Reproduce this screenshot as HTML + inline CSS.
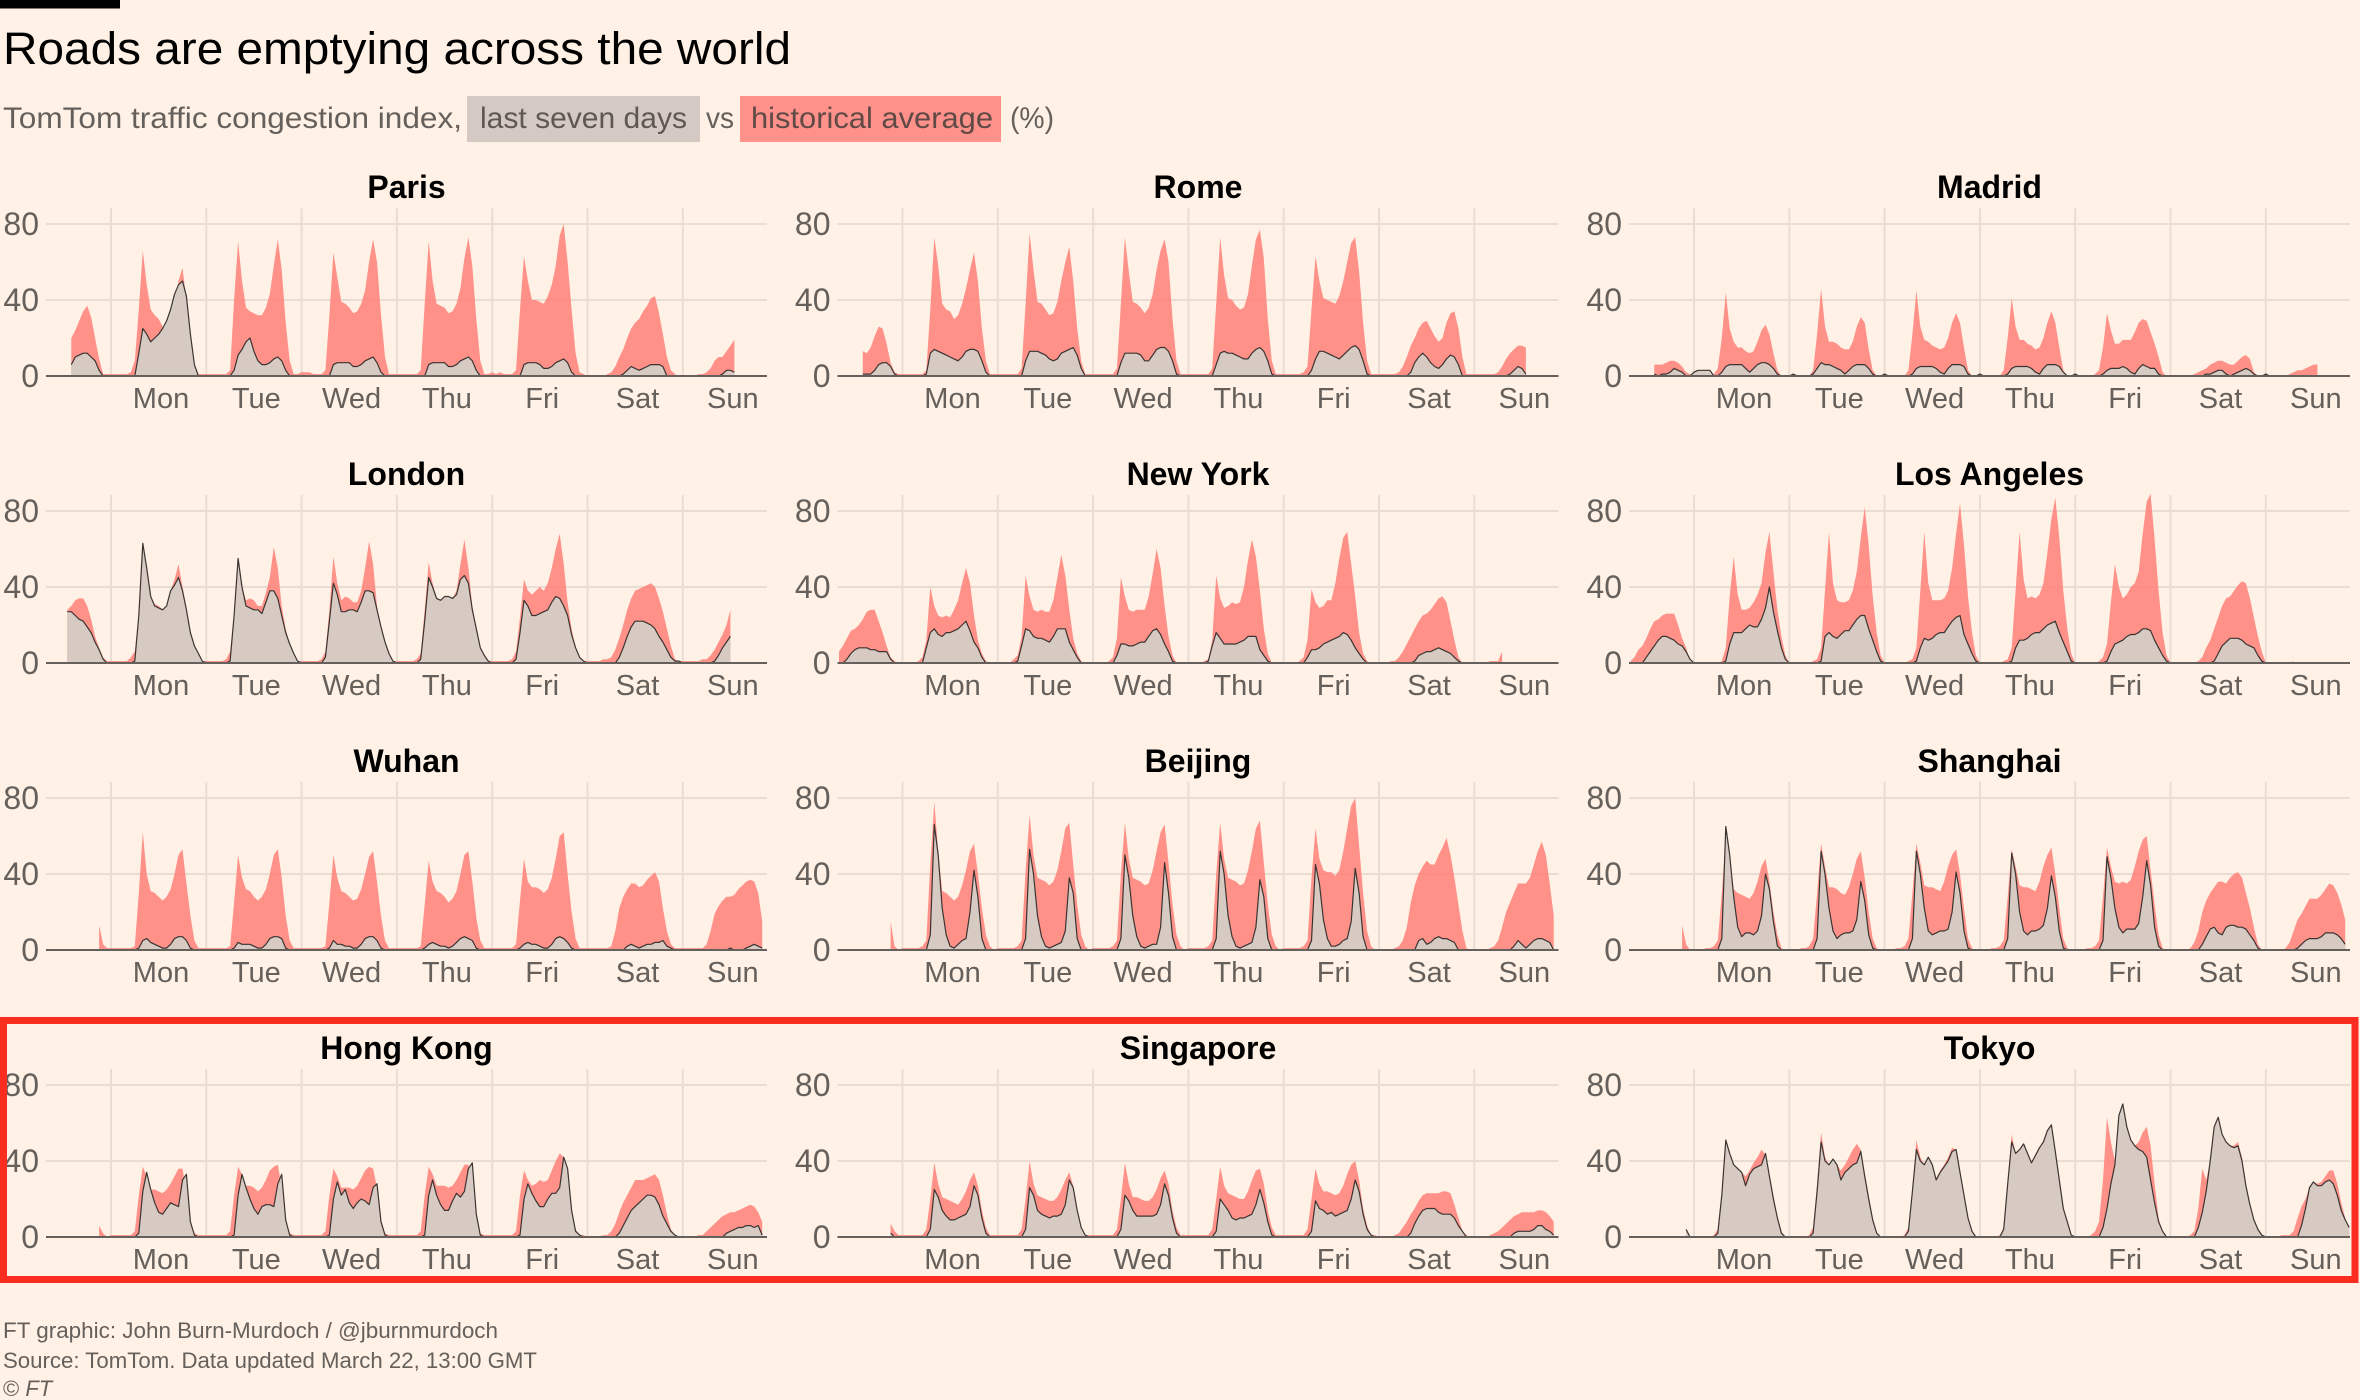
<!DOCTYPE html>
<html lang="en">
<head>
<meta charset="utf-8">
<title>Roads are emptying across the world</title>
<style>
html,body{margin:0;padding:0;background:#fff1e5;width:2360px;height:1400px;overflow:hidden}
svg{display:block;font-family:"Liberation Sans",sans-serif}
</style>
</head>
<body>
<svg id="chart" xmlns="http://www.w3.org/2000/svg" width="2360" height="1400" viewBox="0 0 2360 1400">
<rect x="0" y="0" width="2360" height="1400" fill="#fff1e5"/>
<rect x="0" y="0" width="120" height="8.5" fill="#000"/>
<text x="3" y="64" font-size="45" fill="#000" textLength="788" lengthAdjust="spacingAndGlyphs">Roads are emptying across the world</text>
<text x="3" y="128" font-size="30" fill="#66605c" textLength="459" lengthAdjust="spacingAndGlyphs">TomTom traffic congestion index,</text>
<rect x="467" y="96" width="233" height="46" fill="#d4cac3"/>
<text x="480" y="128" font-size="30" fill="#5f5753" textLength="207" lengthAdjust="spacingAndGlyphs">last seven days</text>
<text x="706" y="128" font-size="30" fill="#66605c" textLength="28" lengthAdjust="spacingAndGlyphs">vs</text>
<rect x="740" y="96" width="261" height="46" fill="#ff918a"/>
<text x="751" y="128" font-size="30" fill="#5f4a46" textLength="242" lengthAdjust="spacingAndGlyphs">historical average</text>
<text x="1010" y="128" font-size="30" fill="#66605c" textLength="44" lengthAdjust="spacingAndGlyphs">(%)</text>
<g id="panels"></g>
<rect x="3.5" y="1020.5" width="2351.5" height="259" fill="none" stroke="#fb2d20" stroke-width="7"/>
<text x="3" y="1338" font-size="22" fill="#66605c" textLength="495" lengthAdjust="spacingAndGlyphs">FT graphic: John Burn-Murdoch / @jburnmurdoch</text>
<text x="3" y="1368" font-size="22" fill="#66605c" textLength="534" lengthAdjust="spacingAndGlyphs">Source: TomTom. Data updated March 22, 13:00 GMT</text>
<text x="3" y="1396" font-size="22" fill="#66605c">© <tspan font-style="italic">FT</tspan></text>
</svg>
<script>
const dayLabels = ['Mon','Tue','Wed','Thu','Fri','Sat','Sun'];
const yTicks = [0,40,80];

const parisStart = -10;
const parisHist = [20,24,29,34,37,31,20,9,1,1,
1,1,1,1,1,2,8,35,66,48,35,32,30,26,25,30,36,50,57,40,15,4,1,1,
1,1,1,1,1,1,3,40,71,50,36,34,33,32,32,36,43,58,72,56,28,8,1,1,
2,2,2,1,1,1,3,32,65,52,39,38,36,33,34,38,45,60,72,60,32,10,1,1,
1,1,1,1,1,1,3,38,71,50,38,37,36,33,34,38,46,62,73,58,30,8,1,1,
2,1,2,1,1,1,3,35,63,50,40,40,39,38,42,48,58,74,80,60,35,12,2,1,
0,0,0,0,0,1,2,5,10,14,20,25,28,30,34,37,41,42,33,22,10,3,1,0,
0,0,0,0,1,1,2,4,8,10,10,13,16,19];
const parisNow = [6,10,11,12,12,10,8,3,0,0,
0,0,0,0,0,0,0,12,25,22,18,20,22,25,29,35,43,48,50,42,22,6,0,0,
0,0,0,0,0,0,0,3,11,14,18,20,13,8,6,6,7,9,10,8,3,0,0,0,
0,0,0,0,0,0,0,0,6,7,7,7,7,5,5,6,8,9,10,7,2,0,0,0,
0,0,0,0,0,0,0,0,6,7,7,7,7,5,5,6,8,9,10,8,3,0,0,0,
0,0,0,0,0,0,0,0,6,7,7,7,6,4,4,5,7,8,9,7,2,0,0,0,
0,0,0,0,0,0,0,0,0,1,3,5,4,3,4,5,6,6,6,5,0,0,0,0,
0,0,0,0,0,0,0,0,0,0,1,3,3,2];

const romeStart = -10;
const romeHist = [13,12,15,21,26,25,17,7,2,1,
1,1,1,1,1,1,3,35,73,58,38,35,34,30,32,38,46,56,65,50,25,8,1,1,
1,1,1,1,1,1,4,38,75,56,39,38,35,32,33,39,50,60,68,50,25,8,1,1,
1,1,1,1,1,1,4,38,73,55,39,38,36,33,36,43,56,66,72,60,30,8,1,1,
1,1,1,1,1,1,4,38,73,53,41,40,37,35,36,43,58,72,77,62,30,8,1,1,
1,1,1,1,1,2,5,35,63,50,41,40,39,38,42,50,60,70,73,55,28,8,1,1,
1,1,1,1,1,2,5,10,16,20,25,28,29,25,21,18,20,28,33,34,25,10,1,1,
1,1,1,1,1,1,2,5,9,12,14,16,16,15];
const romeNow = [1,1,1,3,6,7,7,5,1,0,
0,0,0,0,0,0,1,12,14,13,12,11,10,9,8,10,13,14,14,13,8,2,0,0,
0,0,0,0,0,0,0,8,13,13,13,12,11,9,8,9,12,13,14,15,11,4,0,0,
0,0,0,0,0,0,0,7,12,12,12,12,11,8,8,11,14,15,15,13,8,1,0,0,
0,0,0,0,0,0,0,6,12,13,12,12,11,10,9,9,12,14,15,13,8,1,0,0,
0,0,0,0,0,0,0,3,9,13,13,12,11,10,9,11,13,15,16,14,8,1,0,0,
0,0,0,0,0,0,0,0,2,7,10,12,10,7,5,4,6,9,11,10,6,0,0,0,
0,0,0,0,0,0,0,0,0,1,3,5,4,1];

const madridStart = -10;
const madridHist = [6,6,6,7,8,8,7,5,2,1,
1,1,1,1,1,1,4,20,44,25,18,15,15,13,12,13,18,24,27,22,12,3,0,0,
0,0,0,0,0,0,3,22,46,26,18,18,17,15,14,14,18,26,31,28,14,3,0,0,
0,0,0,0,0,0,3,22,45,26,19,18,16,15,14,15,20,28,33,28,15,3,0,0,
0,0,0,0,0,0,3,20,41,26,19,19,17,16,14,15,20,28,34,28,15,3,0,0,
0,0,0,0,0,1,3,15,33,24,17,17,19,19,19,23,28,30,29,23,17,10,2,0,
0,0,0,0,0,0,1,2,3,4,6,7,8,8,7,6,6,8,10,11,9,2,0,0,
0,0,0,0,0,0,1,2,3,3,4,5,6,6];
const madridNow = [1,0,1,1,2,4,3,2,0,0,
2,3,3,3,3,0,0,2,5,6,6,6,6,4,2,4,6,7,7,6,4,1,0,0,
0,1,0,0,0,0,1,4,7,6,6,5,4,3,1,3,5,6,6,6,4,1,0,0,
1,0,0,0,0,0,0,1,4,5,5,5,5,4,2,1,4,6,6,6,5,1,0,0,
1,0,0,0,0,0,0,1,4,5,5,5,5,4,2,1,4,6,6,6,5,2,0,0,
1,0,0,0,0,0,0,1,3,4,4,4,5,4,2,1,4,6,5,4,4,1,0,0,
0,0,0,0,0,0,0,0,0,1,1,2,3,3,1,0,1,2,3,4,3,1,0,0,
1,0,0,0,0,0,0,0,0,0,0,0,0,0];

const londonStart = -11;
const londonHist = [28,30,33,34,34,30,23,14,8,3,1,
1,1,1,1,1,3,6,26,63,50,35,31,30,28,30,38,44,52,40,29,16,9,5,1,
1,1,1,1,1,2,6,26,55,40,33,34,33,30,30,37,45,61,50,30,18,10,5,1,
1,1,1,1,1,2,6,28,56,42,33,35,34,32,32,38,50,64,52,30,18,10,5,1,
1,1,1,1,1,2,5,28,53,42,34,33,35,35,34,38,52,65,50,30,18,8,4,1,
1,1,1,1,1,2,6,24,44,38,36,38,40,38,42,50,60,68,52,32,18,8,3,1,
1,1,1,1,2,2,3,7,13,20,28,34,38,39,40,41,42,40,34,27,18,9,2,1,
1,1,1,1,1,2,2,4,7,11,15,20,28];
const londonNow = [27,27,25,23,22,19,16,11,7,2,0,
0,0,0,0,0,0,1,25,63,50,35,30,29,28,30,38,41,45,38,28,16,9,5,1,
0,0,0,0,0,0,1,25,55,40,30,29,28,28,26,32,38,38,34,25,16,10,5,1,
0,0,0,0,0,0,3,22,42,36,27,27,28,28,27,32,38,38,37,28,19,11,5,1,
0,0,0,0,0,0,2,22,45,40,34,33,35,35,34,36,44,46,42,28,18,8,4,1,
0,0,0,0,0,0,2,16,33,30,25,25,26,27,28,32,35,34,30,25,15,8,3,1,
0,0,0,0,0,0,0,0,3,8,14,19,22,22,22,21,20,18,14,11,7,3,1,1,
0,0,0,0,0,0,0,0,1,4,8,11,14];

const newYorkStart = -16;
const newYorkHist = [6,9,13,17,18,20,23,27,28,28,22,16,9,3,1,0,
0,0,0,0,1,3,12,40,30,25,24,25,24,28,33,42,50,42,25,12,5,1,0,0,
0,0,0,0,2,4,14,46,35,28,27,28,27,27,33,45,57,46,28,13,5,1,0,0,
0,0,0,0,1,3,13,45,35,28,27,28,28,28,35,47,60,50,30,14,4,0,0,0,
0,0,0,0,1,2,12,46,34,29,30,32,31,32,40,54,65,56,38,18,5,0,0,0,
0,0,0,0,1,3,12,39,32,29,30,33,33,42,55,66,69,52,35,16,5,1,0,0,
0,0,0,1,1,3,6,10,14,18,22,25,26,28,31,34,35,32,22,12,3,0,0,0,
0,0,0,0,1,1,1,6];
const newYorkNow = [0,0,2,5,7,8,8,8,7,7,6,6,6,2,0,0,
0,0,0,0,0,0,8,16,18,15,14,16,16,17,18,20,22,17,11,8,3,0,0,0,
0,0,0,0,0,1,9,18,17,14,13,13,12,11,14,18,18,18,11,7,3,0,0,0,
0,0,0,0,0,0,4,10,10,9,9,10,11,11,14,17,18,15,10,6,1,0,0,0,
0,0,0,0,0,1,9,16,13,10,10,10,10,11,12,14,14,14,7,4,1,0,0,0,
0,0,0,0,0,0,3,7,7,8,10,11,12,13,14,16,15,12,8,5,2,0,0,0,
0,0,0,0,0,0,0,0,0,1,4,5,6,6,7,8,7,6,5,3,1,0,0,0,
0,0,0,0,0,0,0,0];

const losAngelesStart = -16;
const losAngelesHist = [1,3,7,9,13,18,22,23,25,26,26,26,20,13,8,1,
0,0,0,0,0,0,0,1,8,35,56,36,28,28,29,32,36,42,58,69,48,28,14,4,
0,0,0,0,0,0,1,2,8,38,69,42,33,32,32,33,38,48,66,82,62,35,16,4,
0,0,0,0,0,0,1,2,8,38,69,42,33,33,33,34,38,50,68,84,62,35,16,4,
0,0,0,0,0,0,1,2,8,38,69,44,34,35,34,36,42,58,76,87,66,38,18,5,
0,0,0,0,0,0,1,3,10,32,52,40,34,36,40,42,48,68,85,89,65,38,16,4,
0,0,0,0,0,0,0,1,3,8,12,18,24,30,34,35,38,41,43,42,34,24,14,6,
0,0,0,0,0,0,0,1];
const losAngelesNow = [0,0,0,0,3,6,9,12,14,14,13,12,10,9,6,2,
0,0,0,0,0,0,0,0,1,10,16,16,16,18,20,19,19,23,29,40,27,17,8,2,
0,0,0,0,0,0,0,0,1,14,16,14,13,15,17,17,20,23,25,25,18,12,6,1,
0,0,0,0,0,0,0,0,1,8,13,12,13,15,16,16,19,22,24,25,15,10,5,1,
0,0,0,0,0,0,0,0,1,8,12,12,13,15,16,16,18,20,21,22,16,11,6,1,
0,0,0,0,0,0,0,0,1,6,10,11,12,14,15,15,16,18,18,17,12,8,4,1,
0,0,0,0,0,0,0,0,0,0,0,1,5,9,11,13,13,13,12,10,9,8,4,1,
0,0,0,0,0,0,0,0];

const wuhanStart = -3;
const wuhanHist = [13,3,1,
1,1,1,1,1,1,2,30,62,40,31,30,28,26,28,32,40,50,53,35,18,5,1,1,
1,1,1,1,1,1,2,25,50,38,32,31,28,26,28,32,40,50,53,38,18,5,1,1,
1,1,1,1,1,1,2,25,50,38,31,30,28,26,27,32,40,49,52,36,18,5,1,1,
1,1,1,1,1,1,2,24,47,36,31,30,28,25,27,31,40,50,52,36,17,5,1,1,
1,1,1,1,1,1,3,26,48,36,33,33,32,30,32,38,48,60,62,40,20,6,1,1,
1,1,1,1,1,1,2,10,22,28,32,35,35,33,34,37,39,41,36,22,10,3,1,1,
1,1,1,1,1,1,3,10,19,23,26,28,28,29,32,34,36,37,36,30,15];
const wuhanNow = [0,0,0,
0,0,0,0,0,0,0,1,5,6,4,3,2,1,1,3,6,7,7,5,1,0,0,0,
0,0,0,0,0,0,0,1,4,3,3,3,2,1,1,3,6,7,7,6,1,0,0,0,
0,0,0,0,0,0,0,1,5,3,3,2,2,1,1,3,6,7,7,5,1,0,0,0,
0,0,0,0,0,0,0,1,3,4,3,2,2,1,2,4,6,7,6,5,1,0,0,0,
0,0,0,0,0,0,0,1,3,4,3,3,2,1,1,3,6,7,6,4,1,0,0,0,
0,0,0,0,0,0,0,0,0,0,2,3,2,1,2,3,3,4,4,5,2,1,0,0,
0,0,0,0,0,0,0,0,0,0,0,0,1,0,0,0,1,2,3,2,1];

const beijingStart = -3;
const beijingHist = [15,2,0,
1,1,1,1,1,2,5,45,78,52,31,30,28,26,28,34,42,52,56,40,22,8,2,0,
1,1,1,1,1,2,5,42,71,50,38,37,36,34,36,42,52,64,67,45,24,8,2,0,
1,1,1,1,1,2,5,40,67,48,38,37,36,34,35,42,52,62,66,46,24,8,2,0,
1,1,1,1,1,2,5,40,67,48,38,37,36,34,35,42,52,64,68,46,24,8,2,0,
1,1,1,1,1,2,5,38,64,48,42,41,41,39,42,52,64,76,80,55,30,10,2,0,
0,0,0,0,1,2,5,12,25,34,40,44,47,45,45,50,54,59,50,38,24,10,1,0,
0,0,0,0,1,2,5,12,20,25,30,35,35,35,38,45,52,57,50,35,18];
const beijingNow = [0,0,0,
0,0,0,0,0,0,0,8,66,50,22,8,2,1,3,5,6,20,42,28,6,0,0,0,
0,0,0,0,0,0,0,6,53,40,18,7,2,1,2,3,4,10,38,30,6,0,0,0,
0,0,0,0,0,0,0,6,50,38,18,7,2,1,2,3,3,12,46,30,7,0,0,0,
0,0,0,0,0,0,0,6,52,40,18,7,2,1,2,3,4,12,37,28,6,0,0,0,
0,0,0,0,0,0,0,5,45,35,16,6,2,2,3,5,6,15,43,30,7,0,0,0,
0,0,0,0,0,0,0,0,0,0,5,6,3,4,6,7,6,6,5,4,0,0,0,0,
0,0,0,0,0,0,0,0,0,0,2,5,3,1,3,5,6,6,5,4,0];

const shanghaiStart = -3;
const shanghaiHist = [13,3,0,
0,0,0,1,1,2,5,30,60,48,32,30,29,28,27,30,36,44,48,36,20,8,1,0,
0,0,0,1,1,2,6,30,56,44,33,33,32,30,29,33,40,48,52,38,20,6,1,0,
0,0,0,1,1,2,6,30,56,46,34,33,33,32,31,36,44,50,53,40,22,6,1,0,
0,0,0,1,1,2,5,28,53,44,34,33,33,32,31,36,44,50,54,40,22,6,1,0,
0,0,0,1,1,2,5,28,54,44,36,35,36,35,37,44,52,58,60,42,24,8,1,0,
0,0,0,0,0,1,4,10,20,26,30,33,36,36,35,38,40,41,38,30,22,12,3,0,
0,0,0,0,0,1,4,10,16,19,23,27,27,27,29,32,35,34,30,24,16];
const shanghaiNow = [0,0,0,
0,0,0,0,0,0,0,6,65,50,28,12,7,9,9,8,10,18,40,32,15,2,0,0,
0,0,0,0,0,0,0,6,52,40,22,10,6,8,9,9,10,16,36,26,8,1,0,0,
0,0,0,0,0,0,0,6,52,40,22,10,8,9,10,10,11,20,41,30,10,1,0,0,
0,0,0,0,0,0,0,6,51,40,20,10,8,10,10,11,13,22,39,28,10,1,0,0,
0,0,0,0,0,0,0,5,49,38,22,12,9,11,11,11,14,28,47,34,12,2,0,0,
0,0,0,0,0,0,0,0,3,7,11,12,9,8,12,13,13,12,12,11,8,5,1,0,
0,0,0,0,0,0,0,0,1,3,5,6,6,6,7,9,9,9,8,6,3];

const hongKongStart = -3;
const hongKongHist = [6,2,0,
1,1,1,1,1,1,3,22,37,32,25,25,24,23,25,28,32,36,36,24,8,2,1,1,
1,1,1,1,1,1,3,22,37,33,27,27,26,24,26,30,35,37,38,26,8,2,1,1,
1,1,1,1,1,1,3,22,36,32,26,26,26,25,27,31,35,37,36,26,9,2,1,1,
1,1,1,1,1,1,3,22,37,33,27,27,27,26,27,30,34,38,38,28,9,2,1,1,
1,1,1,1,1,1,3,22,35,30,27,28,30,29,30,35,40,44,42,30,12,4,1,1,
0,0,0,0,1,1,3,7,13,18,22,26,30,30,30,31,32,33,30,22,12,4,1,0,
0,0,0,0,1,1,3,5,7,9,11,12,13,13,14,15,16,17,16,13,8];
const hongKongNow = [0,0,0,
0,0,0,0,0,0,0,2,24,34,25,18,13,12,15,18,17,16,30,33,8,1,0,0,
0,0,0,0,0,0,0,1,22,33,26,20,15,12,16,17,17,16,28,33,9,1,0,0,
0,0,0,0,0,0,0,1,20,29,22,25,18,15,18,20,19,17,26,28,8,1,0,0,
0,0,0,0,0,0,0,1,22,30,22,17,14,14,19,23,21,24,36,39,12,1,0,0,
0,0,0,0,0,0,0,1,20,28,23,19,16,16,20,23,23,26,42,36,14,3,1,0,
0,0,0,0,0,0,0,0,2,6,10,14,16,18,20,22,22,21,17,11,7,3,1,0,
0,0,0,0,0,0,0,0,0,0,0,2,3,4,5,5,6,6,5,6,1];

const singaporeStart = -3;
const singaporeHist = [7,3,1,
1,1,1,1,1,1,4,20,39,28,21,20,19,18,17,20,24,30,34,27,14,5,1,1,
1,1,1,1,1,1,4,20,40,28,22,21,20,19,19,21,25,30,34,27,14,5,1,1,
1,1,1,1,1,1,4,20,39,28,21,21,20,19,19,21,25,31,35,28,14,5,1,1,
1,1,1,1,1,1,4,20,37,27,23,22,21,20,20,24,30,35,36,28,14,5,1,1,
1,1,1,1,1,1,4,20,36,28,24,24,23,22,23,27,33,38,40,30,15,6,1,1,
0,0,0,0,1,2,5,8,12,15,19,22,23,23,23,23,24,24,23,17,10,3,1,0,
0,0,0,0,1,2,3,5,7,9,11,12,13,13,13,13,14,14,13,11,8];
const singaporeNow = [2,0,0,
0,0,0,0,0,0,0,4,25,21,14,11,9,9,10,11,12,16,27,22,10,2,0,0,
0,0,0,0,0,0,0,4,26,22,14,12,11,10,11,11,12,17,30,26,14,5,1,0,
0,0,0,0,0,0,0,4,22,19,14,11,11,11,11,11,12,17,28,22,10,2,0,0,
0,0,0,0,0,0,0,3,20,17,14,10,9,10,10,11,12,17,25,18,8,1,0,0,
0,0,0,0,0,0,0,3,19,15,14,12,13,11,12,13,14,20,30,24,12,4,1,0,
0,0,0,0,0,0,0,0,2,7,11,14,15,15,15,13,12,12,12,10,6,3,0,0,
0,0,0,0,0,0,0,0,0,0,2,3,3,3,3,4,6,6,4,3,1];

const tokyoStart = -2;
const tokyoHist = [4,0,
0,0,0,0,0,1,4,24,52,44,38,36,34,32,35,39,42,46,43,33,22,11,3,0,
0,0,0,0,0,1,5,28,55,42,38,40,38,35,38,42,46,49,46,34,22,10,2,0,
0,0,0,0,0,1,5,26,51,42,38,42,38,31,35,38,42,47,46,34,22,10,3,0,
0,0,0,0,0,1,5,30,54,44,46,49,44,39,43,47,50,56,59,45,30,15,8,1,
0,0,0,0,1,3,8,30,63,50,40,55,60,55,50,48,50,55,58,48,28,10,3,0,
0,0,0,0,0,1,3,15,36,30,40,58,63,54,50,48,48,50,42,28,17,9,4,1,
0,0,0,0,1,1,1,3,10,16,20,26,29,28,29,32,35,35,28,18,10,5];
const tokyoNow = [4,0,
0,0,0,0,0,0,2,22,51,44,38,36,34,27,33,36,37,38,44,32,20,10,2,0,
0,0,0,0,0,0,2,24,50,40,38,41,38,30,34,36,38,39,45,32,20,9,2,0,
0,0,0,0,0,0,3,24,46,40,38,42,38,30,34,37,40,45,46,34,22,10,3,0,
0,0,0,0,0,0,4,28,50,44,46,49,44,39,43,47,50,56,59,45,30,15,8,1,
0,0,0,0,0,0,0,5,15,28,38,64,70,58,51,48,46,45,42,30,18,8,3,0,
0,0,0,0,0,0,0,5,13,24,40,58,63,54,50,48,47,48,40,27,17,9,4,1,
0,0,0,0,0,0,0,0,0,6,15,26,29,27,27,29,30,28,22,14,9,5];

const cityNames = ['Paris','Rome','Madrid','London','New York','Los Angeles','Wuhan','Beijing','Shanghai','Hong Kong','Singapore','Tokyo'];
const cityStarts = [parisStart,romeStart,madridStart,londonStart,newYorkStart,losAngelesStart,wuhanStart,beijingStart,shanghaiStart,hongKongStart,singaporeStart,tokyoStart];
const cityHist = [parisHist,romeHist,madridHist,londonHist,newYorkHist,losAngelesHist,wuhanHist,beijingHist,shanghaiHist,hongKongHist,singaporeHist,tokyoHist];
const cityNow = [parisNow,romeNow,madridNow,londonNow,newYorkNow,losAngelesNow,wuhanNow,beijingNow,shanghaiNow,hongKongNow,singaporeNow,tokyoNow];

const NS = 'http://www.w3.org/2000/svg';
const root = document.getElementById('panels');
const COL_STEP = 791.5, ROW_STEP = 287;
const AXIS_LEFT = 46, AXIS_WIDTH = 721, GRID_FIRST = 111, DAY_W = 95.3;
const ZERO_Y = 376, UNIT_H = 1.9, GRID_TOP = 168;

function make(tag, attrs, parent, text) {
  const el = document.createElementNS(NS, tag);
  for (const k in attrs) el.setAttribute(k, attrs[k]);
  if (text !== undefined) el.textContent = text;
  parent.appendChild(el);
  return el;
}
function slug(s) { return s.toLowerCase().replace(/\s+/g, '-'); }

cityNames.forEach(function (city, idx) {
  const col = idx % 3, row = Math.floor(idx / 3);
  const dx = col * COL_STEP, y0 = ZERO_Y + row * ROW_STEP;
  const left = AXIS_LEFT + dx, right = left + AXIS_WIDTH, grid0 = GRID_FIRST + dx;
  const xScale = function (h) { return grid0 + h * DAY_W / 24; };
  const yScale = function (v) { return y0 - v * UNIT_H; };
  const name = slug(city);

  const g = make('g', {}, root);
  
  

  const title = make('text', {x: left + AXIS_WIDTH / 2, y: y0 - 178, 'text-anchor': 'middle', 'font-size': 32, 'font-weight': 'bold', fill: '#000'}, g, city);
  
  

  yTicks.forEach(function (t) {
    if (t !== 0) {
      const gl = make('line', {x1: left, x2: right, y1: yScale(t), y2: yScale(t), stroke: '#e9ddd3', 'stroke-width': 2}, g);
      
      
    }
    const lab = make('text', {x: left - 7, y: yScale(t) + 11, 'text-anchor': 'end', 'font-size': 32, fill: '#66605c'}, g, String(t));
    
    
  });

  dayLabels.forEach(function (d, i) {
    const gx = xScale(i * 24);
    const vl = make('line', {x1: gx, x2: gx, y1: y0, y2: y0 - GRID_TOP, stroke: '#e9ddd3', 'stroke-width': 2}, g);
    
    
    const lab = make('text', {x: gx + 50, y: y0 + 32, 'text-anchor': 'middle', 'font-size': 29, fill: '#66605c'}, g, d);
    
    
  });

  const start = cityStarts[idx];
  const linePath = function (vals) {
    return vals.map(function (v, i) {
      return (i ? 'L' : 'M') + xScale(start + i).toFixed(1) + ' ' + yScale(v).toFixed(1);
    }).join('');
  };
  const areaPath = function (vals) {
    return linePath(vals) + 'L' + xScale(start + vals.length - 1).toFixed(1) + ' ' + y0 + 'L' + xScale(start).toFixed(1) + ' ' + y0 + 'Z';
  };

  const hist = make('path', {d: areaPath(cityHist[idx]), fill: 'rgb(255,128,121)', 'fill-opacity': 0.85}, g);
  
  

  const now = make('path', {d: areaPath(cityNow[idx]), fill: '#d5cbc4', 'fill-opacity': 0.97}, g);
  
  

  const line = make('path', {d: linePath(cityNow[idx]), fill: 'none', stroke: '#3b3431', 'stroke-width': 1.2, 'stroke-linejoin': 'round'}, g);
  
  

  const axis = make('line', {x1: left, x2: right, y1: y0, y2: y0, stroke: '#66605c', 'stroke-width': 2}, g);
  
  
});
</script>
</body>
</html>
